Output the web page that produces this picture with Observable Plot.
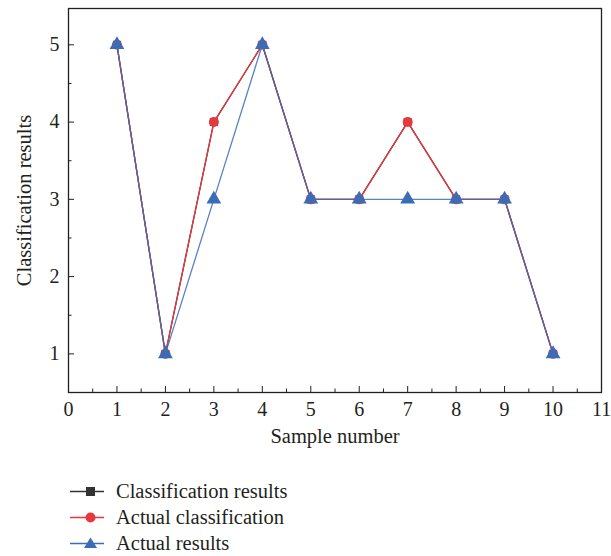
<!DOCTYPE html>
<html>
<head>
<meta charset="utf-8">
<script src="https://cdn.jsdelivr.net/npm/d3@7"></script>
<script src="https://cdn.jsdelivr.net/npm/@observablehq/plot@0.6"></script>
<style>
  body { margin: 0; background: #fff; font-family: "Liberation Serif", "DejaVu Serif", serif; }
  #chart { height: 452px; }
  #legend { margin-left: 70px; margin-top: 26px; }
  .row { display: flex; align-items: center; height: 26px; font-size: 20.5px; color: #231f20; line-height: 26px; }
  .row svg { margin-right: 12px; }
  #chart svg g[aria-label$='tick label'] text { font-size: 20px; }
  #chart svg g[aria-label$='axis label'] text { font-size: 20.5px; }
</style>
</head>
<body>
<div id="chart"></div>
<div id="legend"></div>
<script>
const samples = [1, 2, 3, 4, 5, 6, 7, 8, 9, 10];
const classificationResults = [5, 1, 4, 5, 3, 3, 4, 3, 3, 1];
const actualClassification = [5, 1, 4, 5, 3, 3, 4, 3, 3, 1];
const actualResults = [5, 1, 3, 5, 3, 3, 3, 3, 3, 1];
const xTicks = [0, 1, 2, 3, 4, 5, 6, 7, 8, 9, 10, 11];
const yTicks = [1, 2, 3, 4, 5];
const seriesNames = ["Classification results", "Actual classification", "Actual results"];
const colors = ["#333333", "#e8383d", "#3b6cb7"];

const toRows = vals => samples.map((s, i) => ({x: s, y: vals[i]}));
const blk = toRows(classificationResults);
const red = toRows(actualClassification);
const blue = toRows(actualResults);

const chart = Plot.plot({
  width: 611,
  height: 452,
  marginLeft: 68,
  marginRight: 10,
  marginTop: 8,
  marginBottom: 60,
  style: {fontFamily: "Liberation Serif, DejaVu Serif, serif", fontSize: "20px", color: "#231f20", background: "#fff"},
  x: {domain: [0, 11]},
  y: {domain: [0.5, 5.47]},
  marks: [
    Plot.frame({stroke: "#231f20", strokeWidth: 1.3}),
    Plot.axisX({ticks: xTicks, tickFormat: "d", tickSize: -6, tickPadding: 15, fontSize: 20, label: "Sample number", labelAnchor: "center", labelArrow: "none", labelOffset: 50}),
    Plot.axisX({ticks: d3.range(0.5, 11, 1), tickSize: -3.5, text: null, label: null}),
    Plot.axisY({ticks: yTicks, tickFormat: "d", tickSize: -6, tickPadding: 15, fontSize: 20, label: "Classification results", labelAnchor: "center", labelArrow: "none", labelOffset: 52}),
    Plot.axisY({ticks: d3.range(1.5, 5.5, 1), tickSize: -3.5, text: null, label: null}),
    Plot.line(blk, {x: "x", y: "y", stroke: colors[0], strokeWidth: 1.3}),
    Plot.dot(blk, {x: "x", y: "y", symbol: "square", r: 4.5, fill: colors[0]}),
    Plot.line(red, {x: "x", y: "y", stroke: colors[1], strokeWidth: 1.3}),
    Plot.dot(red, {x: "x", y: "y", symbol: "circle", r: 5, fill: colors[1]}),
    Plot.line(blue, {x: "x", y: "y", stroke: colors[2], strokeWidth: 1.3, strokeOpacity: 0.85}),
    Plot.dot(blue, {x: "x", y: "y", symbol: "triangle", r: 5.5, fill: colors[2]})
  ]
});
chart.querySelectorAll("g[aria-label$='tick label'] text").forEach(t => { t.style.fontSize = "20px"; });
chart.querySelectorAll("g[aria-label$='axis label'] text").forEach(t => { t.style.fontSize = "20.5px"; });
document.getElementById("chart").appendChild(chart);

const symbols = [
  '<rect x="16" y="4" width="9" height="9" fill="#333333"/>',
  '<circle cx="20.5" cy="8.5" r="5" fill="#e8383d"/>',
  '<path d="M20.5 2.5 L27 13 L14 13 Z" fill="#3b6cb7"/>'
];
const legend = document.getElementById("legend");
seriesNames.forEach((name, i) => {
  const row = document.createElement("div");
  row.className = "row";
  row.innerHTML = `<svg width="34" height="17"><line x1="0" y1="8.5" x2="34" y2="8.5" stroke="${colors[i]}" stroke-width="1.5"/>${symbols[i]}</svg><span>${name}</span>`;
  legend.appendChild(row);
});
</script>
</body>
</html>
